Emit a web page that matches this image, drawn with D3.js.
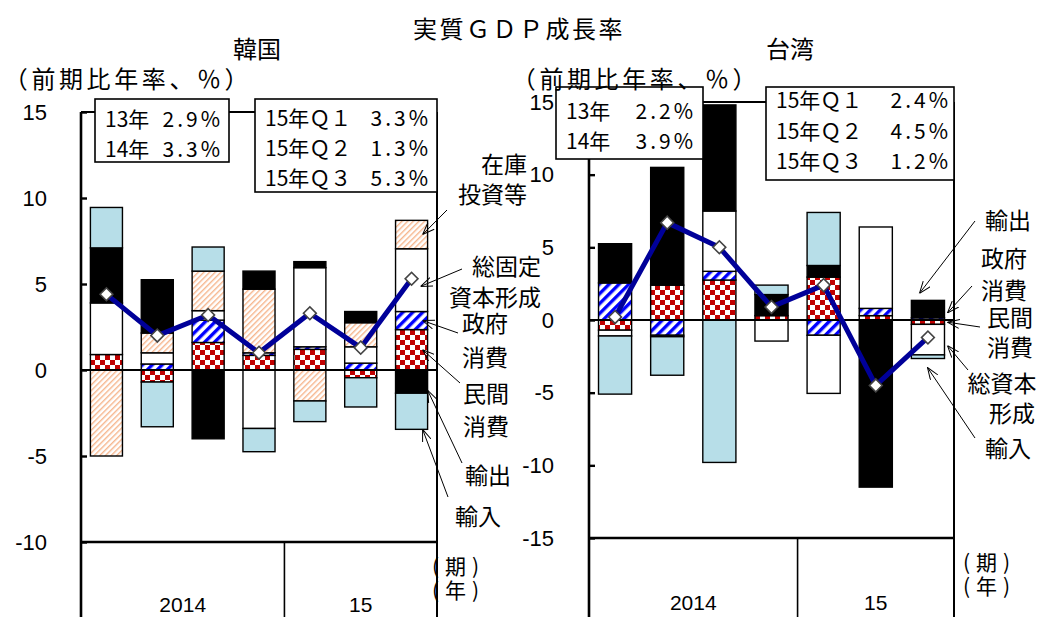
<!DOCTYPE html>
<html>
<head>
<meta charset="utf-8">
<script src="https://cdn.jsdelivr.net/npm/d3@7"></script>
<style>
  body { margin: 0; background: #fff; }
  svg text { font-family: "Noto Sans CJK JP", sans-serif; fill: #000; }
</style>
</head>
<body>
<svg id="chart" width="1045" height="617"></svg>
<script>
// ---- data -------------------------------------------------------------
const quarters = ["14Q1", "14Q2", "14Q3", "14Q4", "15Q1", "15Q2", "15Q3"];
const quarterYear = ["2014", "2014", "2014", "2014", "15", "15", "15"];

// Korea: contributions to real GDP growth (q/q, annualised, %pt)
const krPrivate         = [0.9, -0.7, 1.6, 0.85, 1.2, -0.45, 2.35];
const krGovernment      = [0.0, 0.35, 1.3, 0.15, 0.15, 0.4, 1.05];
const krFixedInvestment = [3.0, 0.65, 0.55, -3.4, 4.6, 0.95, 3.65];
const krInventory       = [-5.0, 1.15, 2.3, 3.7, -1.8, 1.4, 1.65];
const krExports         = [3.2, 3.1, -4.0, 1.05, 0.35, 0.65, -1.35];
const krImports         = [2.35, -2.6, 1.4, -1.35, -1.2, -1.7, -2.1];
const krGDP             = [4.4, 2.0, 3.2, 1.0, 3.3, 1.3, 5.3];
const krAnnual    = [["13年", "2.9%"], ["14年", "3.3%"]];
const krQuarterly = [["15年Ｑ１", "3.3%"], ["15年Ｑ２", "1.3%"], ["15年Ｑ３", "5.3%"]];

// Taiwan
const twPrivate          = [-0.7, 2.4, 2.75, 0.3, 2.95, 0.3, -0.3];
const twGovernment       = [2.55, -1.05, 0.6, 0.0, -1.05, 0.5, 0.15];
const twCapitalFormation = [-0.4, -0.1, 4.15, -1.45, -4.0, 5.6, -2.1];
const twExports          = [2.7, 8.1, 7.3, 1.45, 0.8, -11.5, 1.2];
const twImports          = [-4.0, -2.65, -9.8, 0.65, 3.65, 0.0, -0.25];
const twGDP              = [0.2, 6.7, 5.0, 0.9, 2.4, -4.5, -1.2];
const twAnnual    = [["13年", "2.2%"], ["14年", "3.9%"]];
const twQuarterly = [["15年Ｑ１", "2.4%"], ["15年Ｑ２", "4.5%"], ["15年Ｑ３", "1.2%"]];

const krTicks = [-10, -5, 0, 5, 10, 15];
const twTicks = [-15, -10, -5, 0, 5, 10, 15];

// ---- drawing ----------------------------------------------------------
const svg = d3.select("#chart");
const defs = svg.append("defs");

// private consumption: red checkerboard
const chk = defs.append("pattern").attr("id", "checker")
  .attr("patternUnits", "userSpaceOnUse").attr("width", 10).attr("height", 10);
chk.append("rect").attr("width", 10).attr("height", 10).attr("fill", "#fff");
chk.append("rect").attr("width", 5).attr("height", 5).attr("fill", "#C00000");
chk.append("rect").attr("x", 5).attr("y", 5).attr("width", 5).attr("height", 5).attr("fill", "#C00000");

// government consumption: wide blue diagonal stripes
const stripe = defs.append("pattern").attr("id", "stripe")
  .attr("patternUnits", "userSpaceOnUse").attr("width", 7).attr("height", 7)
  .attr("patternTransform", "rotate(45)");
stripe.append("rect").attr("width", 7).attr("height", 7).attr("fill", "#fff");
stripe.append("rect").attr("width", 3.4).attr("height", 7).attr("fill", "#0000FF");

// inventories: fine light-orange hatching
const hatch = defs.append("pattern").attr("id", "hatch")
  .attr("patternUnits", "userSpaceOnUse").attr("width", 4).attr("height", 4)
  .attr("patternTransform", "rotate(45)");
hatch.append("rect").attr("width", 4).attr("height", 4).attr("fill", "#fff");
hatch.append("rect").attr("width", 1.4).attr("height", 4).attr("fill", "#F6B58C");

defs.append("marker").attr("id", "arrow")
  .attr("viewBox", "0 0 12 10").attr("refX", 12).attr("refY", 5)
  .attr("markerWidth", 12).attr("markerHeight", 10)
  .attr("markerUnits", "userSpaceOnUse").attr("orient", "auto")
  .append("path").attr("d", "M0,0.5 L12,5 L0,9.5")
  .attr("fill", "none").attr("stroke", "#000").attr("stroke-width", 1);

function drawPanel(cfg) {
  const g = svg.append("g");
  const x = d3.scaleBand().domain(quarters).range([cfg.x0, cfg.x1])
    .paddingInner(cfg.pad).paddingOuter(cfg.pad / 2);
  const y = d3.scaleLinear().domain(cfg.domain).range([cfg.yBottom, cfg.yTop]);

  const keys = cfg.series.map(s => s.key);
  const rows = quarters.map((q, i) =>
    Object.fromEntries([["q", q], ...cfg.series.map(s => [s.key, s.values[i]])]));
  const layers = d3.stack().keys(keys).offset(d3.stackOffsetDiverging)(rows);

  // stacked contribution bars
  layers.forEach((layer, li) => {
    g.append("g").selectAll("rect")
      .data(layer.filter(d => d[1] !== d[0]))
      .join("rect")
      .attr("x", d => x(d.data.q))
      .attr("width", x.bandwidth())
      .attr("y", d => y(d[1]))
      .attr("height", d => y(d[0]) - y(d[1]))
      .attr("fill", cfg.series[li].fill)
      .attr("stroke", "#000")
      .attr("stroke-width", 1.4);
  });

  // zero line
  g.append("line").attr("x1", cfg.x0).attr("x2", cfg.x1)
    .attr("y1", y(0)).attr("y2", y(0))
    .attr("stroke", "#000").attr("stroke-width", 2);

  // plot frame
  const frame = g.append("g").attr("stroke", "#000").attr("fill", "none");
  frame.append("line").attr("x1", cfg.x0).attr("x2", cfg.x1).attr("y1", cfg.yTop).attr("y2", cfg.yTop).attr("stroke-width", 2);
  frame.append("line").attr("x1", cfg.x0).attr("x2", cfg.x1).attr("y1", cfg.yBottom).attr("y2", cfg.yBottom).attr("stroke-width", 2.6);
  frame.append("line").attr("x1", cfg.x1).attr("x2", cfg.x1).attr("y1", cfg.yTop).attr("y2", 617).attr("stroke-width", 2);
  frame.append("line").attr("x1", cfg.x0).attr("x2", cfg.x0).attr("y1", cfg.yTop).attr("y2", 617).attr("stroke-width", 2.6);

  // value axis (inward ticks)
  const ax = g.append("g").attr("transform", `translate(${cfg.x0},0)`)
    .call(d3.axisLeft(y).tickValues(cfg.ticks).tickSizeInner(-6).tickSizeOuter(0)
      .tickPadding(cfg.tickPad).tickFormat(d => String(d)));
  ax.select(".domain").remove();
  ax.selectAll(".tick line").attr("stroke", "#000").attr("stroke-width", 2.4);
  ax.selectAll(".tick text")
    .style("font-family", '"Liberation Sans", Arial, sans-serif')
    .attr("font-size", 22).attr("fill", "#000");

  // year groups on the category axis
  const groups = d3.groups(quarters.map((q, i) => ({ q, year: quarterYear[i] })), d => d.year);
  const step = x.step();
  groups.forEach(([year, qs]) => {
    const left = x(qs[0].q) - step * cfg.pad / 2;
    const right = x(qs[qs.length - 1].q) + x.bandwidth() + step * cfg.pad / 2;
    g.append("line").attr("x1", right).attr("x2", right)
      .attr("y1", cfg.yBottom).attr("y2", 617)
      .attr("stroke", "#000").attr("stroke-width", 1.6);
    g.append("text").attr("x", (left + right) / 2).attr("y", cfg.yearY)
      .attr("text-anchor", "middle")
      .style("font-family", '"Liberation Sans", Arial, sans-serif')
      .attr("font-size", 21).text(year);
  });

  // real GDP growth line
  const cx = (d, i) => x(quarters[i]) + x.bandwidth() / 2;
  g.append("path").datum(cfg.gdp)
    .attr("d", d3.line().x(cx).y(d => y(d)))
    .attr("fill", "none").attr("stroke", "#000099")
    .attr("stroke-width", 5).attr("stroke-linejoin", "round");
  g.selectAll(".marker").data(cfg.gdp).join("path")
    .attr("class", "marker")
    .attr("transform", (d, i) => `translate(${cx(d, i)},${y(d)}) rotate(45)`)
    .attr("d", d3.symbol(d3.symbolSquare, 82)())
    .attr("fill", "#fff").attr("stroke", "#444").attr("stroke-width", 1.6);

  // series call-outs pointing at the last bar
  const last = quarters[quarters.length - 1];
  const barRight = x(last) + x.bandwidth();
  cfg.notes.forEach(n => {
    const li = keys.indexOf(n.key);
    const seg = layers[li][quarters.length - 1];
    const tipY = y(seg[0] + n.frac * (seg[1] - seg[0])) + (n.dy || 0);
    const tipX = barRight + n.dx;
    g.append("line").attr("x1", n.from[0]).attr("y1", n.from[1])
      .attr("x2", tipX).attr("y2", tipY)
      .attr("stroke", "#000").attr("stroke-width", 1)
      .attr("marker-end", "url(#arrow)");
    n.lines.forEach((t, k) => {
      g.append("text")
        .attr("x", Array.isArray(n.tx) ? n.tx[k] : n.tx)
        .attr("y", n.ty[k])
        .attr("dominant-baseline", "central")
        .attr("text-anchor", n.anchor)
        .attr("font-size", 23).text(t);
    });
  });

  // growth-rate boxes
  cfg.boxes.forEach(b => {
    g.append("rect").attr("x", b.x).attr("y", b.y).attr("width", b.w).attr("height", b.h)
      .attr("fill", "#fff").attr("stroke", "#000").attr("stroke-width", 1.6);
    b.rows.forEach((r, k) => {
      g.append("text").attr("x", b.labelX).attr("y", b.rowY[k])
        .attr("dominant-baseline", "central").attr("font-size", 21).text(r[0]);
      g.append("text").attr("x", b.valueX + 3).attr("y", b.rowY[k])
        .attr("dominant-baseline", "central").attr("text-anchor", "end")
        .attr("letter-spacing", 3).attr("font-size", 21).text(r[1]);
    });
  });

  // titles and unit labels
  g.append("text").attr("x", cfg.nameX).attr("y", 47).attr("text-anchor", "middle")
    .attr("dominant-baseline", "central").attr("font-size", 24).text(cfg.name);
  g.append("text").attr("x", cfg.unitX).attr("y", 77).attr("text-anchor", "middle")
    .attr("dominant-baseline", "central").attr("font-size", 24).attr("letter-spacing", 3.6)
    .text("（前期比年率、％）");
  ["(期)", "(年)"].forEach((t, k) => {
    g.append("text").attr("x", cfg.periodX).attr("y", cfg.periodY[k])
      .attr("dominant-baseline", "central").attr("letter-spacing", 6)
      .attr("font-size", 21).text(t);
  });
}

drawPanel({
  name: "韓国", nameX: 257, unitX: 128,
  x0: 81, x1: 437, yTop: 112, yBottom: 542, domain: [-10, 15], ticks: krTicks,
  tickPad: 34, pad: 0.37, yearY: 612, periodX: 432, periodY: [565, 589],
  gdp: krGDP,
  series: [
    { key: "private", values: krPrivate, fill: "url(#checker)" },
    { key: "government", values: krGovernment, fill: "url(#stripe)" },
    { key: "fixedInvestment", values: krFixedInvestment, fill: "#fff" },
    { key: "inventory", values: krInventory, fill: "url(#hatch)" },
    { key: "exports", values: krExports, fill: "#000" },
    { key: "imports", values: krImports, fill: "#B7DEE8" }
  ],
  notes: [
    { key: "inventory", lines: ["在庫", "投資等"], anchor: "end", tx: 527, ty: [163, 193], from: [447, 210], frac: 0.5, dx: -5 },
    { key: "fixedInvestment", lines: ["総固定", "資本形成"], anchor: "end", tx: 541, ty: [265, 296], from: [462, 269], frac: 0.4, dx: -7 },
    { key: "government", lines: ["政府", "消費"], anchor: "start", tx: 462, ty: [322, 356], from: [458, 333], frac: 0.5, dx: -5 },
    { key: "private", lines: ["民間", "消費"], anchor: "start", tx: 463, ty: [392, 425], from: [460, 383], frac: 0.5, dx: -5 },
    { key: "exports", lines: ["輸出"], anchor: "start", tx: 465, ty: [474], from: [462, 463], frac: 0.13, dx: 0 },
    { key: "imports", lines: ["輸入"], anchor: "start", tx: 455, ty: [515], from: [448, 497], frac: 0, dx: -5 }
  ],
  boxes: [
    { x: 95, y: 99, w: 134, h: 63, rows: krAnnual, rowY: [118, 148], labelX: 105, valueX: 220 },
    { x: 255, y: 99, w: 182, h: 93, rows: krQuarterly, rowY: [117, 147, 177], labelX: 265, valueX: 428 }
  ]
});

drawPanel({
  name: "台湾", nameX: 790, unitX: 636,
  x0: 589, x1: 954, yTop: 102, yBottom: 538, domain: [-15, 15], ticks: twTicks,
  tickPad: 35, pad: 0.365, yearY: 610, periodX: 963, periodY: [561, 585],
  gdp: twGDP,
  series: [
    { key: "private", values: twPrivate, fill: "url(#checker)" },
    { key: "government", values: twGovernment, fill: "url(#stripe)" },
    { key: "capitalFormation", values: twCapitalFormation, fill: "#fff" },
    { key: "exports", values: twExports, fill: "#000" },
    { key: "imports", values: twImports, fill: "#B7DEE8" }
  ],
  notes: [
    { key: "exports", lines: ["輸出"], anchor: "middle", tx: 1008, ty: [219], from: [975, 221], frac: 1, dx: -25, dy: -7 },
    { key: "government", lines: ["政府", "消費"], anchor: "middle", tx: 1004, ty: [257, 289], from: [972, 286], frac: 0.5, dx: 3, dy: -6 },
    { key: "private", lines: ["民間", "消費"], anchor: "middle", tx: 1010, ty: [316, 346], from: [980, 327], frac: 0.5, dx: 3, dy: 0 },
    { key: "capitalFormation", lines: ["総資本", "形成"], anchor: "middle", tx: [1002, 1012], ty: [382, 412], from: [968, 370], frac: 0.5, dx: 3, dy: 6 },
    { key: "imports", lines: ["輸入"], anchor: "middle", tx: 1008, ty: [447], from: [975, 438], frac: 0, dx: -17, dy: 9 }
  ],
  boxes: [
    { x: 556, y: 87, w: 147, h: 72, rows: twAnnual, rowY: [110, 140], labelX: 566, valueX: 693 },
    { x: 766, y: 87, w: 188, h: 93, rows: twQuarterly, rowY: [99, 130, 160], labelX: 776, valueX: 948 }
  ]
});

svg.append("text").attr("x", 519).attr("y", 27).attr("text-anchor", "middle")
  .attr("dominant-baseline", "central").attr("font-size", 24).attr("letter-spacing", 2.5)
  .text("実質ＧＤＰ成長率");
</script>
</body>
</html>
